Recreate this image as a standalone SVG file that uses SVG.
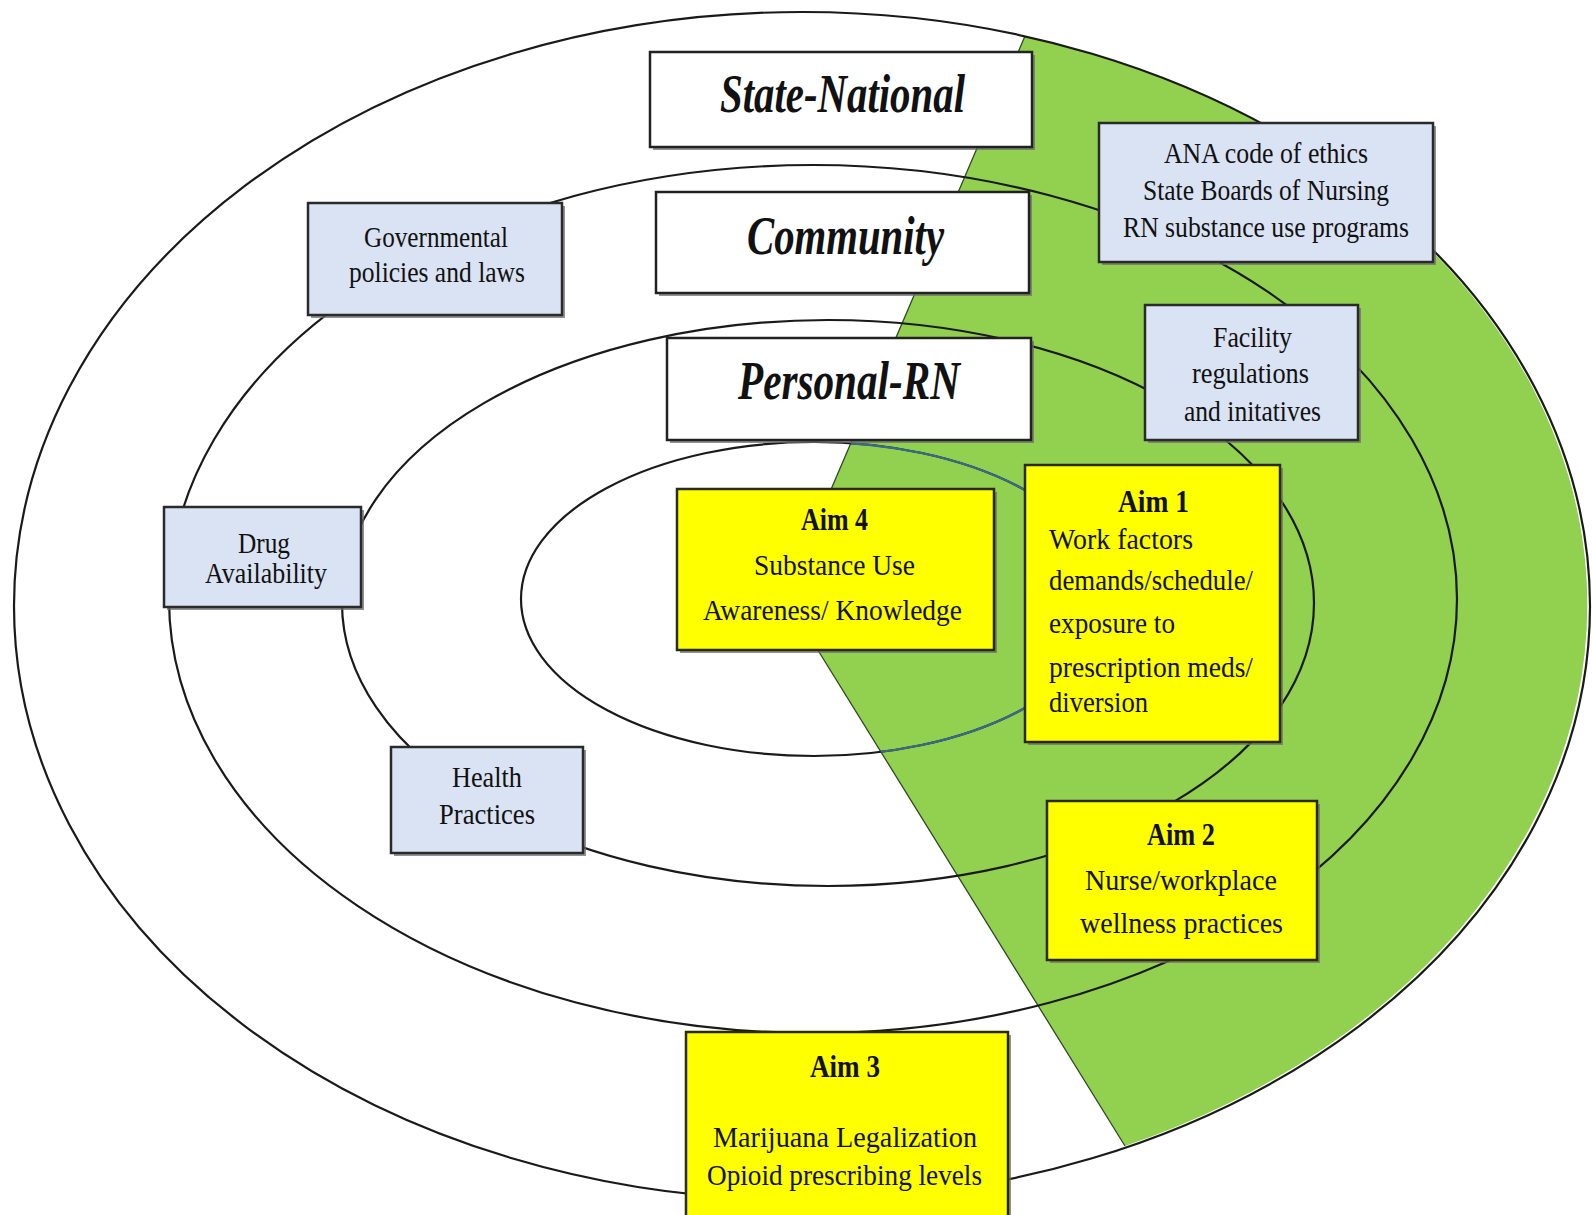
<svg xmlns="http://www.w3.org/2000/svg" width="1592" height="1215" viewBox="0 0 1592 1215">
<style>
.ring{fill:none;stroke:#1a1a1a;stroke-width:2.2}
.shadow{fill:#6e6e6e;opacity:0.75}
.lvl{fill:#ffffff;stroke:#222;stroke-width:2.5}
.blue{fill:#dae3f3;stroke:#2a2a2a;stroke-width:2.5}
.aim{fill:#ffff00;stroke:#2a2a10;stroke-width:2.5}
text{font-family:"Liberation Serif","Times New Roman",serif;fill:#111;}
.big{font-size:54px;font-weight:bold;font-style:italic}
.t{font-size:30px}
.h{font-size:32px;font-weight:bold}
</style>
<defs>
<clipPath id="wedgeClip"><path d="M785,597 L1025,36 A788,594 0 0 1 1125,1146 Z"/></clipPath>
</defs>
<rect x="0" y="0" width="1592" height="1215" fill="#ffffff"/>
<g id="sector">
<path d="M785,597 L1025,36 A788,594 0 0 1 1125,1146 Z" fill="#92d050"/>
<path d="M1025,36 L785,597 L1125,1146" fill="none" stroke="#2f4a22" stroke-width="1.3"/>
</g>
<g id="connectors">
<ellipse class="ring" cx="802" cy="606" rx="788" ry="594"/>
<ellipse class="ring" cx="813" cy="599" rx="644" ry="434"/>
<ellipse class="ring" cx="828" cy="603" rx="486" ry="283"/>
<ellipse class="ring" cx="814" cy="599" rx="293" ry="157"/>
<ellipse cx="814" cy="599" rx="293" ry="157" fill="none" stroke="#3b6a8c" stroke-width="2.2" clip-path="url(#wedgeClip)"/>
</g>
<g id="state-national">
<rect class="shadow" x="653" y="55" width="382" height="95"/>
<rect class="lvl" x="650" y="52" width="382" height="95"/>
<text class="big" x="720" y="112" textLength="245" lengthAdjust="spacingAndGlyphs">State-National</text>
</g>
<g id="community">
<rect class="shadow" x="659" y="195" width="373" height="101"/>
<rect class="lvl" x="656" y="192" width="373" height="101"/>
<text class="big" x="747" y="254" textLength="197" lengthAdjust="spacingAndGlyphs">Community</text>
</g>
<g id="personal-rn">
<rect class="shadow" x="670" y="341" width="364" height="102"/>
<rect class="lvl" x="667" y="338" width="364" height="102"/>
<text class="big" x="738" y="399" textLength="222" lengthAdjust="spacingAndGlyphs">Personal-RN</text>
</g>
<g id="governmental">
<rect class="shadow" x="311" y="206" width="254" height="112"/>
<rect class="blue" x="308" y="203" width="254" height="112"/>
<text class="t" x="364" y="247" textLength="144" lengthAdjust="spacingAndGlyphs">Governmental</text>
<text class="t" x="349" y="282" textLength="176" lengthAdjust="spacingAndGlyphs">policies and laws</text>
</g>
<g id="drug">
<rect class="shadow" x="167" y="510" width="197" height="100"/>
<rect class="blue" x="164" y="507" width="197" height="100"/>
<text class="t" x="238" y="553" textLength="52" lengthAdjust="spacingAndGlyphs">Drug</text>
<text class="t" x="205" y="583" textLength="122" lengthAdjust="spacingAndGlyphs">Availability</text>
</g>
<g id="health">
<rect class="shadow" x="394" y="750" width="192" height="106"/>
<rect class="blue" x="391" y="747" width="192" height="106"/>
<text class="t" x="452" y="787" textLength="70" lengthAdjust="spacingAndGlyphs">Health</text>
<text class="t" x="439" y="824" textLength="96" lengthAdjust="spacingAndGlyphs">Practices</text>
</g>
<g id="ana">
<rect class="shadow" x="1102" y="126" width="334" height="139"/>
<rect class="blue" x="1099" y="123" width="334" height="139"/>
<text class="t" x="1164" y="163" textLength="204" lengthAdjust="spacingAndGlyphs">ANA code of ethics</text>
<text class="t" x="1143" y="200" textLength="246" lengthAdjust="spacingAndGlyphs">State Boards of Nursing</text>
<text class="t" x="1123" y="237" textLength="286" lengthAdjust="spacingAndGlyphs">RN substance use programs</text>
</g>
<g id="facility">
<rect class="shadow" x="1148" y="308" width="213" height="135"/>
<rect class="blue" x="1145" y="305" width="213" height="135"/>
<text class="t" x="1213" y="347" textLength="79" lengthAdjust="spacingAndGlyphs">Facility</text>
<text class="t" x="1192" y="383" textLength="117" lengthAdjust="spacingAndGlyphs">regulations</text>
<text class="t" x="1184" y="421" textLength="137" lengthAdjust="spacingAndGlyphs">and initatives</text>
</g>
<g id="aim4">
<rect class="shadow" x="680" y="492" width="317" height="161"/>
<rect class="aim" x="677" y="489" width="317" height="161"/>
<text class="h" x="801" y="530" textLength="67" lengthAdjust="spacingAndGlyphs">Aim 4</text>
<text class="t" x="754" y="575" textLength="161" lengthAdjust="spacingAndGlyphs">Substance Use</text>
<text class="t" x="703" y="620" textLength="259" lengthAdjust="spacingAndGlyphs">Awareness/ Knowledge</text>
</g>
<g id="aim1">
<rect class="shadow" x="1028" y="468" width="255" height="277"/>
<rect class="aim" x="1025" y="465" width="255" height="277"/>
<text class="h" x="1118" y="512" textLength="71" lengthAdjust="spacingAndGlyphs">Aim 1</text>
<text class="t" x="1049" y="549" textLength="144" lengthAdjust="spacingAndGlyphs">Work factors</text>
<text class="t" x="1049" y="590" textLength="204" lengthAdjust="spacingAndGlyphs">demands/schedule/</text>
<text class="t" x="1049" y="633" textLength="126" lengthAdjust="spacingAndGlyphs">exposure to</text>
<text class="t" x="1049" y="677" textLength="204" lengthAdjust="spacingAndGlyphs">prescription meds/</text>
<text class="t" x="1049" y="712" textLength="99" lengthAdjust="spacingAndGlyphs">diversion</text>
</g>
<g id="aim2">
<rect class="shadow" x="1050" y="804" width="270" height="159"/>
<rect class="aim" x="1047" y="801" width="270" height="159"/>
<text class="h" x="1147" y="845" textLength="68" lengthAdjust="spacingAndGlyphs">Aim 2</text>
<text class="t" x="1085" y="890" textLength="192" lengthAdjust="spacingAndGlyphs">Nurse/workplace</text>
<text class="t" x="1080" y="933" textLength="203" lengthAdjust="spacingAndGlyphs">wellness  practices</text>
</g>
<g id="aim3">
<rect class="shadow" x="689" y="1035" width="322" height="190"/>
<rect class="aim" x="686" y="1032" width="322" height="190"/>
<text class="h" x="810" y="1077" textLength="70" lengthAdjust="spacingAndGlyphs">Aim 3</text>
<text class="t" x="713" y="1147" textLength="264" lengthAdjust="spacingAndGlyphs">Marijuana Legalization</text>
<text class="t" x="707" y="1185" textLength="275" lengthAdjust="spacingAndGlyphs">Opioid prescribing levels</text>
</g>
</svg>
